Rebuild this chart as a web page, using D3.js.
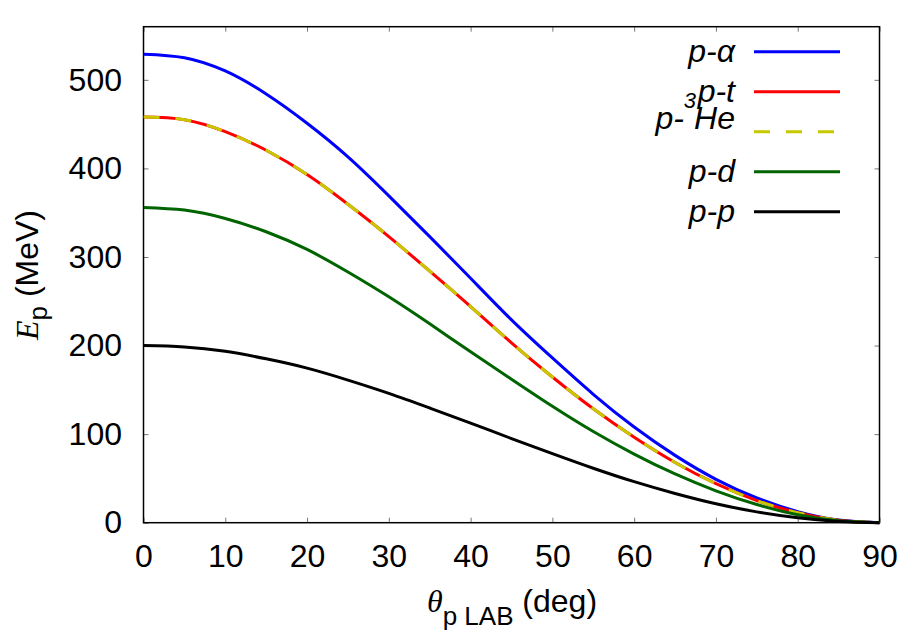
<!DOCTYPE html>
<html>
<head>
<meta charset="utf-8">
<script src="https://cdn.jsdelivr.net/npm/d3@7"></script>
<style>
  body { margin: 0; background: #fff; }
  svg { display: block; }
</style>
</head>
<body>
<div id="chart"></div>
<script>
// Proton energy vs lab angle (every 5 deg)
const angles  = [0, 5, 10, 15, 20, 25, 30, 35, 40, 45, 50, 55, 60, 65, 70, 75, 80, 85, 90];
const pAlpha  = [529, 525, 510, 484, 451, 413, 369, 323, 276, 229, 186, 145, 108, 76, 49, 28, 12.5, 3, 0];
const pTriton = [458, 455, 441.5, 420.5, 393, 359.5, 323, 284, 244, 203, 164.5, 128.6, 96.5, 68, 44, 25, 11.3, 2.8, 0];
const pHe3    = [458, 455, 441.5, 420.5, 393, 359.5, 323, 284, 244, 203, 164.5, 128.6, 96.5, 68, 44, 25, 11.3, 2.8, 0];
const pDeut   = [356, 353, 343.5, 328.5, 308.5, 283, 255, 224.5, 193, 162, 131.5, 103, 77.5, 55, 36, 20.5, 9, 2.3, 0];
const pProton = [200, 198.5, 193.5, 185, 174.5, 161, 146, 129.5, 112.5, 95, 78, 61.5, 46.3, 33, 21.4, 12.2, 5.5, 1.4, 0];

const xTicks = [0, 10, 20, 30, 40, 50, 60, 70, 80, 90];
const yTicks = [0, 100, 200, 300, 400, 500];

const series = [
    { key: "alpha", label: "p-α",  values: pAlpha,  color: "#0000ff" },
    { key: "t",     label: "p-t",  values: pTriton, color: "#ff0000" },
    { key: "he3",   label: "p-3He", values: pHe3,  color: "#c8c800", dash: "16,16" },
    { key: "d",     label: "p-d",  values: pDeut,   color: "#006400" },
    { key: "p",     label: "p-p",  values: pProton, color: "#000000" }
];

const width = 900, height = 630;
const plotLeft = 143.5, plotRight = 879.5, plotTop = 26.7, plotBottom = 522.7;
const sans = "'Liberation Sans', Arial, Helvetica, sans-serif";
const serif = "'Liberation Serif', 'Times New Roman', serif";

const svg = d3.select("#chart").append("svg")
    .attr("width", width)
    .attr("height", height)
    .style("font-family", sans);

const x = d3.scaleLinear().domain([0, 90]).range([plotLeft, plotRight]);
const y = d3.scaleLinear().domain([0, 560]).range([plotBottom, plotTop]);

// axes with small inward ticks on all four sides
function styleAxis(g) {
    g.select(".domain").remove();
    g.selectAll(".tick line").attr("stroke", "#777").attr("stroke-width", 1);
    g.selectAll(".tick text").attr("fill", "#000").style("font-size", "32px").style("font-family", sans);
}

svg.append("g")
    .attr("transform", `translate(0,${plotBottom})`)
    .call(d3.axisBottom(x).tickValues(xTicks).tickSize(-5).tickPadding(22).tickFormat(d3.format("d")))
    .call(styleAxis);

svg.append("g")
    .attr("transform", `translate(${plotLeft},0)`)
    .call(d3.axisLeft(y).tickValues(yTicks).tickSize(-5).tickPadding(21.5).tickFormat(d3.format("d")))
    .call(styleAxis);

svg.append("g")
    .attr("transform", `translate(0,${plotTop})`)
    .call(d3.axisTop(x).tickValues(xTicks).tickSize(-5).tickFormat(""))
    .call(styleAxis);

svg.append("g")
    .attr("transform", `translate(${plotRight},0)`)
    .call(d3.axisRight(y).tickValues(yTicks).tickSize(-5).tickFormat(""))
    .call(styleAxis);

// plot border
svg.append("rect")
    .attr("x", plotLeft).attr("y", plotTop)
    .attr("width", plotRight - plotLeft).attr("height", plotBottom - plotTop)
    .attr("fill", "none").attr("stroke", "#000").attr("stroke-width", 1.5);

svg.append("clipPath").attr("id", "plot-clip")
    .append("rect")
    .attr("x", plotLeft).attr("y", plotTop - 2)
    .attr("width", plotRight - plotLeft + 2).attr("height", plotBottom - plotTop + 4);

const line = d3.line()
    .x((d, i) => x(angles[i]))
    .y(d => y(d))
    .curve(d3.curveNatural);

svg.append("g").attr("clip-path", "url(#plot-clip)")
    .selectAll("path")
    .data(series)
    .join("path")
    .attr("d", d => line(d.values))
    .attr("fill", "none")
    .attr("stroke", d => d.color)
    .attr("stroke-width", 3)
    .attr("stroke-dasharray", d => d.dash || null)
    .attr("stroke-linejoin", "round");

// legend, top right
const legend = svg.append("g");
series.forEach((s, i) => {
    const ly = 51.7 + i * 40;
    legend.append("line")
        .attr("x1", 754).attr("x2", 840)
        .attr("y1", ly).attr("y2", ly)
        .attr("stroke", s.color)
        .attr("stroke-width", 3)
        .attr("stroke-dasharray", s.dash || null);

    const t = legend.append("text")
        .attr("x", 735)
        .attr("text-anchor", "end")
        .style("font-size", "32px")
        .style("font-style", "italic");
    if (s.key === "he3") {
        t.attr("y", ly - 3);
        t.append("tspan").text("p-");
        t.append("tspan").attr("dy", -21).style("font-size", "22px").text("3");
        t.append("tspan").attr("dy", 21).attr("dx", -2).text("He");
    } else {
        t.attr("y", ly + 10).text(s.label);
    }
});

// x axis title
const xt = svg.append("text")
    .attr("x", 512).attr("y", 612)
    .attr("text-anchor", "middle")
    .style("font-size", "32px");
xt.append("tspan").style("font-family", serif).style("font-style", "italic").text("θ");
xt.append("tspan").attr("dy", 13).style("font-size", "26px").text("p LAB");
xt.append("tspan").attr("dy", -13).text(" (deg)");

// y axis title
const yt = svg.append("text")
    .attr("transform", "translate(38,275) rotate(-90)")
    .attr("text-anchor", "middle")
    .style("font-size", "32px");
yt.append("tspan").style("font-family", serif).style("font-style", "italic").text("E");
yt.append("tspan").attr("dy", 9).style("font-size", "26px").text("p");
yt.append("tspan").attr("dy", -9).text(" (MeV)");
</script>
</body>
</html>
